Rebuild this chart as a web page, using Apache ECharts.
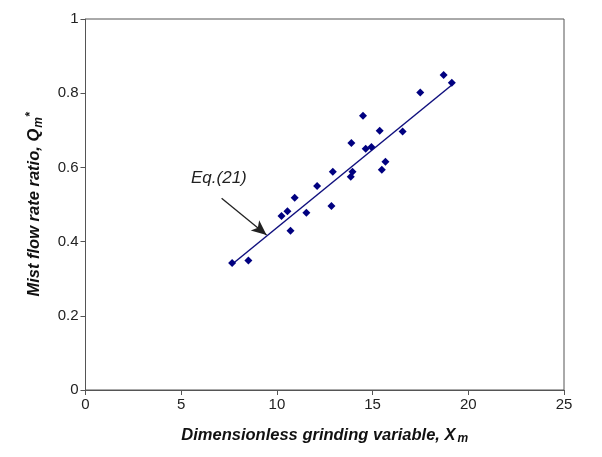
<!DOCTYPE html>
<html><head><meta charset="utf-8">
<script src="https://cdn.jsdelivr.net/npm/echarts@6/dist/echarts.min.js"></script>
<style>html,body{margin:0;padding:0;background:#fff}#c{width:602px;height:457px}</style>
</head><body><div id="c"></div>
<script>
const xData = [7.66, 8.51, 10.24, 10.55, 10.71, 10.93, 11.54, 12.10, 12.85, 12.92, 13.86, 13.95, 13.89, 14.50, 14.64, 14.94, 15.37, 15.48, 15.67, 16.57, 17.49, 18.71, 19.14];
const yData = [0.342, 0.349, 0.469, 0.482, 0.429, 0.518, 0.478, 0.550, 0.496, 0.588, 0.575, 0.588, 0.666, 0.739, 0.650, 0.655, 0.699, 0.594, 0.615, 0.697, 0.802, 0.849, 0.828];
const fitX = [7.66, 19.14];
const fitY = [0.339, 0.822];
const xTicks = [0, 5, 10, 15, 20, 25];
const yTicks = [0, 0.2, 0.4, 0.6, 0.8, 1];
const arrowFrom = [7.11, 0.517];
const arrowTo = [9.46, 0.418];
const eqLabelPos = [6.97, 0.571];
const eqLabel = 'Eq.(21)';

const chart = echarts.init(document.getElementById('c'));
const font = '"Liberation Sans", Arial, sans-serif';
chart.setOption({
  animation: false,
  grid: {left: 85.5, right: 38, top: 19, bottom: 67, show: true, borderColor: '#555', borderWidth: 1},
  xAxis: {
    type: 'value', min: 0, max: 25, interval: 5,
    axisLine: {lineStyle: {color: '#555'}},
    axisTick: {show: true, length: 5, inside: false, lineStyle: {color: '#555'}},
    axisLabel: {color: '#222', fontSize: 15, fontFamily: font, margin: 7},
    splitLine: {show: false},
    name: '{a|Dimensionless grinding variable, X}{s|m}',
    nameLocation: 'middle', nameGap: 35,
    nameTextStyle: {rich: {
      a: {fontSize: 16.5, fontWeight: 'bold', fontStyle: 'italic', fontFamily: font, color: '#111'},
      s: {fontSize: 12, fontWeight: 'bold', fontStyle: 'italic', fontFamily: font, color: '#111', padding: [8, 0, 0, 2]}
    }}
  },
  yAxis: {
    type: 'value', min: 0, max: 1, interval: 0.2,
    axisLine: {show: true, lineStyle: {color: '#555'}},
    axisTick: {show: true, length: 5, inside: false, lineStyle: {color: '#555'}},
    axisLabel: {color: '#222', fontSize: 15, fontFamily: font, margin: 7, formatter: v => String(Math.round(v*10)/10)},
    splitLine: {show: false},
    name: '{a|Mist flow rate ratio, Q}{s|m}{p|*}',
    nameLocation: 'middle', nameGap: 41,
    nameTextStyle: {rich: {
      a: {fontSize: 16.5, fontWeight: 'bold', fontStyle: 'italic', fontFamily: font, color: '#111'},
      s: {fontSize: 12, fontWeight: 'bold', fontStyle: 'italic', fontFamily: font, color: '#111', padding: [8, 0, 0, 1]},
      p: {fontSize: 12, fontWeight: 'bold', fontStyle: 'italic', fontFamily: font, color: '#111', padding: [0, 0, 8, 0]}
    }}
  },
  series: [
    {
      type: 'line', data: fitX.map((x, i) => [x, fitY[i]]),
      showSymbol: false, symbol: 'none',
      lineStyle: {color: '#10107e', width: 1.5},
      z: 2,
      markLine: {
        silent: true, symbol: ['none', 'arrow'], symbolSize: [10, 15],
        lineStyle: {color: '#222', width: 1.3, type: 'solid'},
        label: {show: false},
        data: [[{coord: arrowFrom}, {coord: arrowTo}]]
      },
      markPoint: {
        silent: true, symbol: 'circle', symbolSize: 1,
        itemStyle: {color: 'rgba(0,0,0,0)'},
        label: {show: true, formatter: eqLabel, fontSize: 17, fontStyle: 'italic', fontFamily: font, color: '#222', position: 'inside'},
        data: [{coord: eqLabelPos}]
      }
    },
    {
      type: 'scatter', data: xData.map((x, i) => [x, yData[i]]),
      symbol: 'diamond', symbolSize: [8, 8],
      itemStyle: {color: '#000080', opacity: 1},
      z: 3
    }
  ]
});
</script></body></html>
